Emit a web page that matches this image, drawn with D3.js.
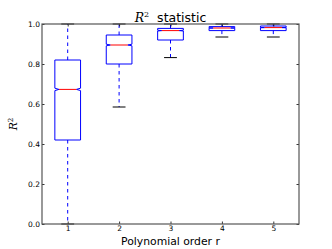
<!DOCTYPE html>
<html>
<head>
<meta charset="utf-8">
<script src="https://cdn.jsdelivr.net/npm/d3@7"></script>
<style>
  body { margin: 0; background: #fff; }
  svg { display: block; }
</style>
</head>
<body>
<div id="chart"></div>
<script>
// box statistics per polynomial order
var orders = [1, 2, 3, 4, 5];
var whiskerLow = [0.0, 0.585, 0.832, 0.935, 0.935];
var q1 = [0.42, 0.80, 0.92, 0.967, 0.967];
var medians = [0.673, 0.895, 0.967, 0.980, 0.982];
var q3 = [0.82, 0.945, 0.978, 0.987, 0.990];
var whiskerHigh = [1.0, 1.0, 1.0, 1.0, 1.0];
var notchHalf = [0.006, 0.004, 0.002, 0.001, 0.001];
var yTicks = [0, 0.2, 0.4, 0.6, 0.8, 1.0];

var width = 332, height = 249;
var margin = {left: 42, right: 33, top: 24, bottom: 25};

var svg = d3.select('#chart').append('svg')
    .attr('width', width)
    .attr('height', height);

var x = d3.scaleLinear().domain([0.5, 5.5]).range([margin.left, width - margin.right]);
var y = d3.scaleLinear().domain([0, 1]).range([height - margin.bottom, margin.top]);

var boxW = 0.5, capW = 0.25, notchW = 0.17;

var boxes = orders.map(function(o, i) {
    return {pos: o, lo: whiskerLow[i], q1: q1[i], med: medians[i], q3: q3[i], hi: whiskerHigh[i], nh: notchHalf[i]};
});

var g = svg.append('g');

var node = g.selectAll('.box').data(boxes).enter().append('g').attr('class', 'box');

// whiskers
node.append('line')
    .attr('x1', function(d) { return x(d.pos); }).attr('x2', function(d) { return x(d.pos); })
    .attr('y1', function(d) { return y(d.q1); }).attr('y2', function(d) { return y(d.lo); })
    .style('stroke', '#0000ff').style('stroke-width', '1px').style('stroke-dasharray', '3.5,3.5');
node.append('line')
    .attr('x1', function(d) { return x(d.pos); }).attr('x2', function(d) { return x(d.pos); })
    .attr('y1', function(d) { return y(d.q3); }).attr('y2', function(d) { return y(d.hi); })
    .style('stroke', '#0000ff').style('stroke-width', '1px').style('stroke-dasharray', '3.5,3.5');

// caps
node.append('line')
    .attr('x1', function(d) { return x(d.pos - capW / 2); }).attr('x2', function(d) { return x(d.pos + capW / 2); })
    .attr('y1', function(d) { return y(d.lo); }).attr('y2', function(d) { return y(d.lo); })
    .style('stroke', '#000').style('stroke-width', '1px');
node.append('line')
    .attr('x1', function(d) { return x(d.pos - capW / 2); }).attr('x2', function(d) { return x(d.pos + capW / 2); })
    .attr('y1', function(d) { return y(d.hi); }).attr('y2', function(d) { return y(d.hi); })
    .style('stroke', '#000').style('stroke-width', '1px');

// notched box
node.append('path')
    .attr('d', function(d) {
        var l = x(d.pos - boxW / 2), r = x(d.pos + boxW / 2);
        var nl = x(d.pos - notchW), nr = x(d.pos + notchW);
        var pts = [[l, y(d.q1)], [r, y(d.q1)], [r, y(d.med - d.nh)], [nr, y(d.med)], [r, y(d.med + d.nh)],
            [r, y(d.q3)], [l, y(d.q3)], [l, y(d.med + d.nh)], [nl, y(d.med)], [l, y(d.med - d.nh)]];
        return d3.line()(pts) + 'Z';
    })
    .style('fill', 'none').style('stroke', '#0000ff').style('stroke-width', '1px');

// medians
node.append('line')
    .attr('x1', function(d) { return x(d.pos - notchW); }).attr('x2', function(d) { return x(d.pos + notchW); })
    .attr('y1', function(d) { return y(d.med); }).attr('y2', function(d) { return y(d.med); })
    .style('stroke', '#ff0000').style('stroke-width', '1px');

// axes, ticks inward
var tickFont = function(sel) {
    sel.selectAll('text').style('font-family', 'DejaVu Sans').style('font-size', '7.5px').style('fill', '#000');
    sel.selectAll('line').style('stroke', '#000').style('stroke-width', '0.8px');
    sel.select('.domain').remove();
};
svg.append('g').attr('transform', 'translate(' + margin.left + ',0)')
    .call(d3.axisLeft(y).tickValues(yTicks).tickFormat(d3.format('.1f')).tickSize(-2.5).tickSizeOuter(0).tickPadding(2))
    .call(tickFont);
svg.append('g').attr('transform', 'translate(' + (width - margin.right) + ',0)')
    .call(d3.axisRight(y).tickValues(yTicks).tickFormat('').tickSize(-2.5).tickSizeOuter(0))
    .call(tickFont);
svg.append('g').attr('transform', 'translate(0,' + (height - margin.bottom) + ')')
    .call(d3.axisBottom(x).tickValues(orders).tickFormat(d3.format('d')).tickSize(-2.5).tickSizeOuter(0).tickPadding(2))
    .call(tickFont);
svg.append('g').attr('transform', 'translate(0,' + margin.top + ')')
    .call(d3.axisTop(x).tickValues(orders).tickFormat('').tickSize(-2.5).tickSizeOuter(0))
    .call(tickFont);

// frame
svg.append('rect')
    .attr('x', margin.left).attr('y', margin.top)
    .attr('width', width - margin.left - margin.right)
    .attr('height', height - margin.top - margin.bottom)
    .style('fill', 'none').style('stroke', '#555').style('stroke-width', '1.2px');

// title
var title = svg.append('text')
    .attr('x', (x.range()[0] + x.range()[1]) / 2).attr('y', 21.5)
    .style('text-anchor', 'middle').style('font-family', 'DejaVu Sans').style('font-size', '12.5px');
title.append('tspan').text('R').style('font-family', 'DejaVu Serif').style('font-style', 'italic');
title.append('tspan').text('2').attr('dy', -5).style('font-size', '8px').style('font-family', 'DejaVu Serif');
title.append('tspan').text('\u00a0 statistic').attr('dy', 5);

// axis labels
svg.append('text')
    .attr('x', (x.range()[0] + x.range()[1]) / 2).attr('y', 244.5)
    .style('text-anchor', 'middle').style('font-family', 'DejaVu Sans').style('font-size', '10.8px')
    .text('Polynomial order r');

var ylab = svg.append('text')
    .attr('transform', 'translate(17,' + ((y.range()[0] + y.range()[1]) / 2) + ') rotate(-90)')
    .style('text-anchor', 'middle').style('font-family', 'DejaVu Serif').style('font-size', '10.8px');
ylab.append('tspan').text('R').style('font-style', 'italic');
ylab.append('tspan').text('2').attr('dy', -4).style('font-size', '7px');
</script>
</body>
</html>
